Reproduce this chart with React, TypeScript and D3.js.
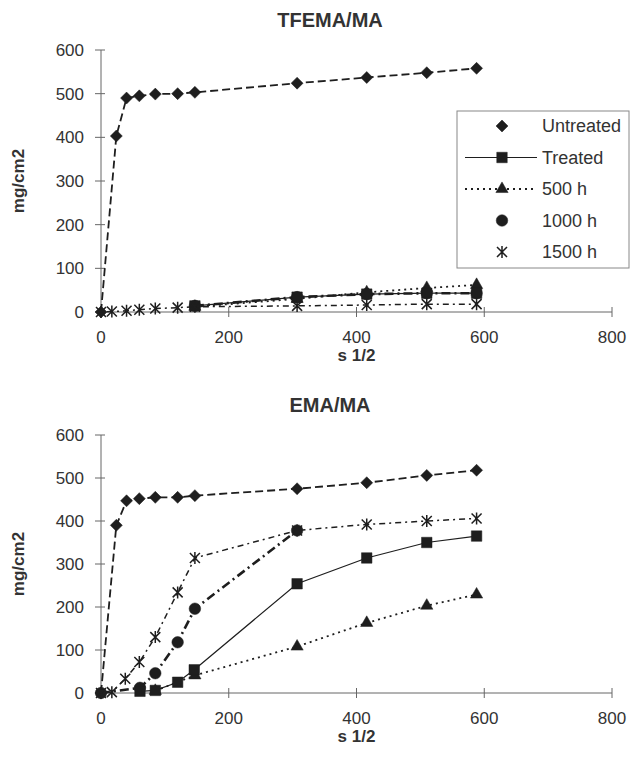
import React from "react";
import * as d3 from "d3";

// s^1/2 positions and mg/cm2 values
const untreatedX = [0, 24, 40, 60, 85, 120, 147, 307, 416, 510, 588];
const tfUntreated = [0, 403, 490, 495, 499, 500, 503, 524, 537, 548, 558];
const emaUntreated = [0, 390, 447, 452, 455, 455, 459, 475, 489, 506, 518];

const tfTreatedX = [147, 307, 416, 510, 588];
const tfTreated = [14, 34, 41, 43, 43];
const tf500X = [147, 307, 416, 510, 588];
const tf500 = [12, 30, 45, 55, 62];
const tf1000X = [147, 307, 416, 510, 588];
const tf1000 = [14, 34, 41, 43, 43];
const tf1500X = [0, 17, 40, 60, 85, 120, 147, 307, 416, 510, 588];
const tf1500 = [0, 1, 3, 5, 8, 10, 12, 14, 16, 18, 18];

const emaTreatedX = [61, 85, 120, 146, 307, 416, 510, 588];
const emaTreated = [4, 6, 25, 54, 254, 314, 350, 365];
const ema500X = [85, 147, 307, 416, 510, 588];
const ema500 = [5, 41, 108, 163, 203, 229];
const ema1000X = [0, 61, 85, 120, 147, 307];
const ema1000 = [0, 12, 46, 118, 196, 378];
const ema1500X = [0, 17, 38, 60, 85, 120, 147, 307, 416, 510, 588];
const ema1500 = [0, 2, 33, 72, 130, 234, 314, 378, 392, 400, 406];

const xTicks = [0, 200, 400, 600, 800];
const yTicks = [0, 100, 200, 300, 400, 500, 600];
const seriesNames = ["Untreated", "Treated", "500 h", "1000 h", "1500 h"];

const INK = "#1e1e1e";
const AXIS = "#666";
const TXT = "#333";
const FONT = "'Liberation Sans', Arial, sans-serif";

type Kind = "diamond" | "square" | "triangle" | "circle" | "star";

const styles: Record<string, { kind: Kind; dash: string; width: number }> = {
  Untreated: { kind: "diamond", dash: "8,4", width: 1.8 },
  Treated: { kind: "square", dash: "none", width: 1.2 },
  "500 h": { kind: "triangle", dash: "2,4", width: 1.8 },
  "1000 h": { kind: "circle", dash: "9,4,2,4", width: 2.6 },
  "1500 h": { kind: "star", dash: "2,4,6,4", width: 1.5 },
};

function markerPath(kind: Kind) {
  if (kind === "diamond") return "M0,-6L6,0L0,6L-6,0Z";
  if (kind === "square") return d3.symbol(d3.symbolSquare, 110)() as string;
  if (kind === "triangle") return d3.symbol(d3.symbolTriangle, 65)() as string;
  if (kind === "circle") return d3.symbol(d3.symbolCircle, 105)() as string;
  return "M-5,-5L5,5M-5,5L5,-5M0,-6L0,6";
}

function Marker({ kind, x, y }: { kind: Kind; x: number; y: number }) {
  const star = kind === "star";
  return (
    <path
      d={markerPath(kind)}
      transform={`translate(${x},${y})`}
      fill={star ? "none" : INK}
      stroke={INK}
      strokeWidth={star ? 1.5 : 0.5}
    />
  );
}

type Series = { name: string; xs: number[]; ys: number[] };

function Panel({ title, top, bottom, series }: { title: string; top: number; bottom: number; series: Series[] }) {
  const x = d3.scaleLinear().domain([0, 800]).range([101, 612]);
  const y = d3.scaleLinear().domain([0, 600]).range([bottom, top]);
  const line = d3
    .line<[number, number]>()
    .x((d) => x(d[0]))
    .y((d) => y(d[1]));
  // draw 1000 h first so the other markers sit on top
  const order = ["1000 h", "Untreated", "500 h", "Treated", "1500 h"];
  const drawn = order.map((n) => series.find((s) => s.name === n)!).filter(Boolean);

  return (
    <g fontFamily={FONT}>
      <text x={330} y={top - 23} textAnchor="middle" fontSize={20} fontWeight="bold" fill={TXT}>
        {title}
      </text>
      {/* axes */}
      <line x1={x(0)} x2={x(0)} y1={y(600)} y2={y(0)} stroke={AXIS} strokeWidth={1} />
      <line x1={x(0)} x2={x(800)} y1={y(0)} y2={y(0)} stroke={AXIS} strokeWidth={1} />
      {yTicks.map((t) => (
        <g key={"y" + t}>
          <line x1={x(0) - 6} x2={x(0) + 4} y1={y(t)} y2={y(t)} stroke={AXIS} />
          <text x={84} y={y(t)} dy="0.36em" textAnchor="end" fontSize={17} fill={TXT}>
            {t}
          </text>
        </g>
      ))}
      {xTicks.map((t) => (
        <g key={"x" + t}>
          <line x1={x(t)} x2={x(t)} y1={y(0) - 5} y2={y(0) + 5} stroke={AXIS} />
          <text x={x(t)} y={y(0) + 31} textAnchor="middle" fontSize={17} fill={TXT}>
            {t}
          </text>
        </g>
      ))}
      <text x={x(400)} y={y(0) + 49} textAnchor="middle" fontSize={17} fontWeight="bold" fill={TXT}>
        s 1/2
      </text>
      <text
        transform={`translate(24,${(y(0) + y(600)) / 2}) rotate(-90)`}
        textAnchor="middle"
        fontSize={17}
        fontWeight="bold"
        fill={TXT}
      >
        mg/cm2
      </text>
      {/* series */}
      {drawn.map((s) => {
        const st = styles[s.name];
        const pts = s.xs.map((v, i) => [v, s.ys[i]] as [number, number]);
        return (
          <g key={s.name}>
            <path d={line(pts) as string} fill="none" stroke={INK} strokeWidth={st.width} strokeDasharray={st.dash} />
            {pts.map((p, i) => (
              <Marker key={i} kind={st.kind} x={x(p[0])} y={y(p[1])} />
            ))}
          </g>
        );
      })}
    </g>
  );
}

function Legend() {
  const rowY = d3.scalePoint().domain(seriesNames).range([126, 252]);
  return (
    <g fontFamily={FONT}>
      <rect x={457} y={111} width={172} height={157} fill="#fff" stroke="#888" strokeWidth={1} />
      {seriesNames.map((n) => {
        const st = styles[n];
        const yy = rowY(n) as number;
        const withLine = n === "Treated" || n === "500 h";
        return (
          <g key={n}>
            {withLine && (
              <line x1={465} x2={537} y1={yy} y2={yy} stroke={INK} strokeWidth={st.width} strokeDasharray={st.dash} />
            )}
            <Marker kind={st.kind} x={502} y={yy} />
            <text x={542} y={yy} dy="0.36em" fontSize={18} fill={TXT}>
              {n}
            </text>
          </g>
        );
      })}
    </g>
  );
}

export default function App() {
  const tfSeries: Series[] = [
    { name: "Untreated", xs: untreatedX, ys: tfUntreated },
    { name: "Treated", xs: tfTreatedX, ys: tfTreated },
    { name: "500 h", xs: tf500X, ys: tf500 },
    { name: "1000 h", xs: tf1000X, ys: tf1000 },
    { name: "1500 h", xs: tf1500X, ys: tf1500 },
  ];
  const emaSeries: Series[] = [
    { name: "Untreated", xs: untreatedX, ys: emaUntreated },
    { name: "Treated", xs: emaTreatedX, ys: emaTreated },
    { name: "500 h", xs: ema500X, ys: ema500 },
    { name: "1000 h", xs: ema1000X, ys: ema1000 },
    { name: "1500 h", xs: ema1500X, ys: ema1500 },
  ];
  return (
    <div style={{ position: "absolute", left: 0, top: 0 }}>
      <svg width={637} height={757} style={{ display: "block", background: "#fff" }}>
        <Panel title="TFEMA/MA" top={50} bottom={312} series={tfSeries} />
        <Legend />
        <Panel title="EMA/MA" top={435} bottom={693} series={emaSeries} />
      </svg>
    </div>
  );
}
